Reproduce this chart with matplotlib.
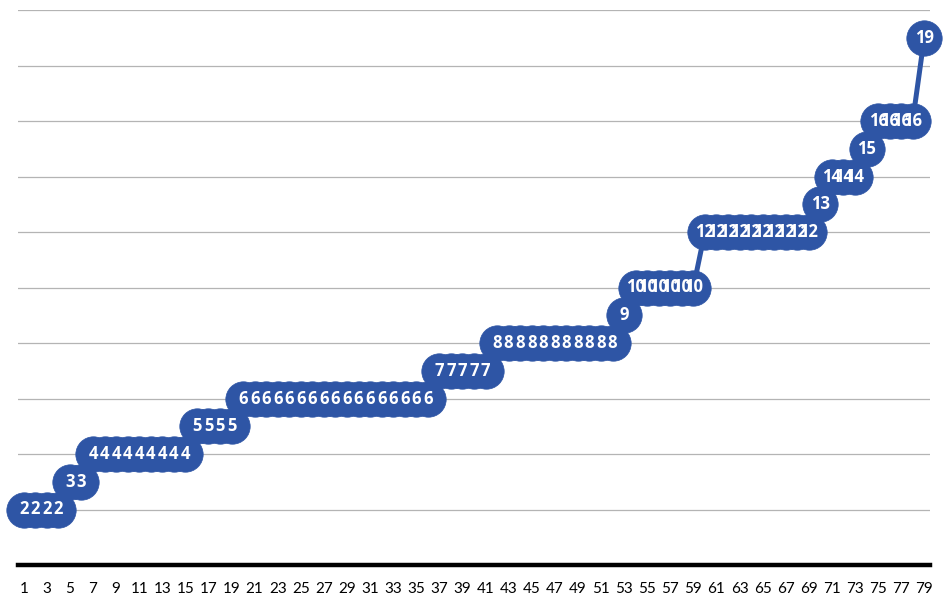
import matplotlib
matplotlib.use("Agg")
import matplotlib.pyplot as plt

# step values: (value, count)
levels = [2, 3, 4, 5, 6, 7, 8, 9, 10, 12, 13, 14, 15, 16, 19]
counts = [4, 2, 9, 4, 17, 5, 11, 1, 6, 10, 1, 3, 1, 4, 1]

values = []
for v, c in zip(levels, counts):
    values.extend([v] * c)
x = list(range(1, len(values) + 1))
tick_labels = [str(i) for i in x if i % 2 == 1]

color = "#2E55A5"

fig = plt.figure(figsize=(9.43, 5.97), dpi=100)
ax = fig.add_axes([18/943, 32/597, 912/943, 555/597])
ax.set_xlim(0.5, len(values) + 0.5)
ax.set_ylim(0, 20)

for gy in range(2, 21, 2):
    ax.axhline(gy, color="#B4B4B4", lw=0.9, zorder=0)

ax.plot(x, values, color=color, lw=3.6, marker="o", markersize=25.5,
        markerfacecolor=color, markeredgecolor=color, markeredgewidth=0.5,
        zorder=2, clip_on=False)

for xi, yi in zip(x, values):
    ax.text(xi, yi, str(yi), color="white", fontsize=12, fontweight="bold",
            ha="center", va="center", zorder=3, family="Open Sans")

for s in ["top", "right", "left"]:
    ax.spines[s].set_visible(False)
ax.spines["bottom"].set_linewidth(3.2)
ax.spines["bottom"].set_color("black")
ax.set_yticks([])
ax.set_xticks([i for i in x if i % 2 == 1])
ax.set_xticklabels(tick_labels, fontsize=11, family="Lato")
ax.tick_params(axis="x", length=0, pad=12)

fig.savefig("out.png", dpi=100)
